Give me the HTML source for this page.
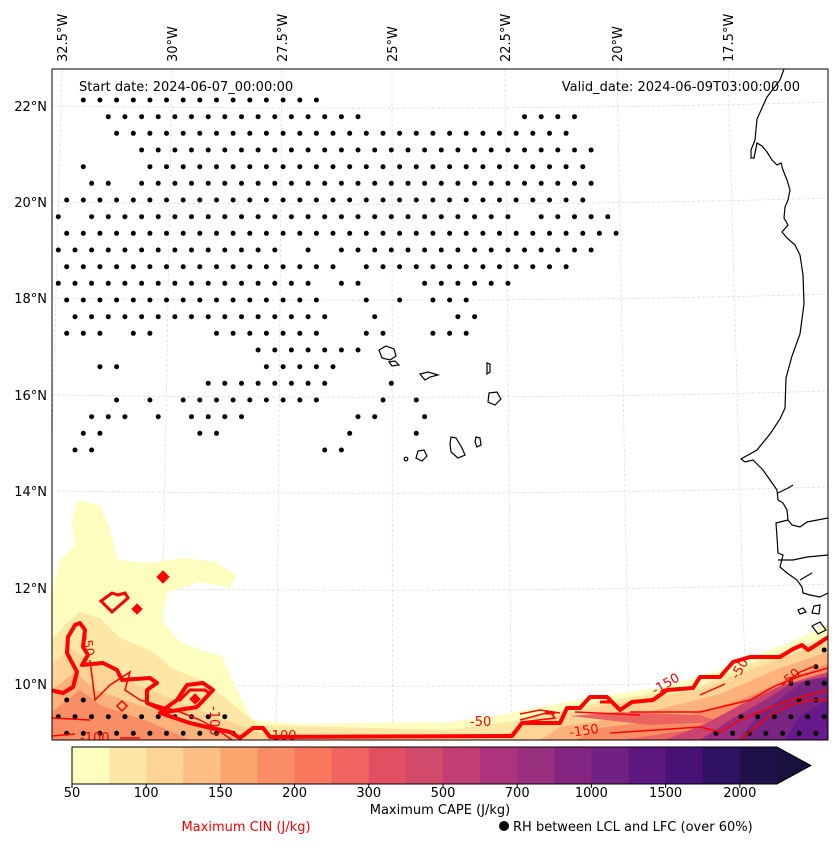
<!DOCTYPE html>
<html><head><meta charset="utf-8"><style>
html,body{margin:0;padding:0;background:#fff}
svg text{font-family:"DejaVu Sans","Liberation Sans",sans-serif}
</style></head><body>
<svg id="fig" width="837" height="845" viewBox="0 0 837 845" xmlns="http://www.w3.org/2000/svg">
<defs><clipPath id="plotclip"><rect x="52" y="69" width="776" height="671"/></clipPath></defs>
<rect x="0" y="0" width="837" height="845" fill="#fff"/>
<g id="mapArea" clip-path="url(#plotclip)">
  <g id="grid"></g>
  <g id="capeFill">
    <path fill="#fcfdbf" d="M52,590 L60,560 L75,545 L72,520 L78,500 L100,505 L110,530 L118,560 L150,563 L185,558 L215,562 L236,575 L230,588 L200,582 L168,592 L162,620 L178,640 L200,650 L222,656 L232,680 L242,700 L252,720 L300,724 L450,722 L500,715 L545,706 L600,696 L660,688 L720,670 L760,654 L800,638 L828,624 L828,740 L52,740 Z"/>
    <path fill="#fde7a6" d="M52,640 L65,625 L80,612 L100,618 L120,638 L150,650 L172,668 L200,680 L228,700 L258,725 L450,730 L520,720 L600,702 L700,686 L760,660 L828,636 L828,740 L52,740 Z"/>
    <path fill="#fed395" d="M52,665 L70,648 L85,658 L105,668 L140,686 L180,702 L220,718 L260,733 L505,735 L525,723 L600,706 L700,690 L765,664 L828,642 L828,740 L52,740 Z"/>
    <path fill="#fcb27a" d="M52,690 L75,672 L95,690 L130,702 L170,715 L210,728 L240,740 L52,740 Z M540,740 L560,727 L640,714 L720,694 L780,668 L828,652 L828,740 Z"/>
    <path fill="#f98d66" d="M52,712 L80,690 L100,705 L150,722 L190,740 L52,740 Z M575,740 L600,728 L680,718 L740,700 L790,678 L828,664 L828,740 Z"/>
    <path fill="#ec6462" d="M620,740 L690,730 L730,712 L770,692 L828,674 L828,740 Z M570,716 L620,712 L700,715 L720,722 L650,725 Z"/>
    <path fill="#c94470" d="M665,740 L705,724 L742,704 L780,686 L828,672 L828,740 Z"/>
    <path fill="#992d80" d="M700,740 L730,720 L765,700 L790,684 L828,676 L828,740 Z"/>
    <path fill="#7a2482" d="M738,740 L758,716 L784,696 L806,680 L828,678 L828,740 Z"/>
    <path fill="#66198a" d="M785,740 L800,716 L828,700 L828,740 Z"/>
  </g>
  <g id="dots"></g>
  <g id="coast" fill="none" stroke="#000" stroke-width="1.2">
    <path d="M784,69 L780,80 L767,97 L757,119 L755,140 L751,150 L751,158 L754,158 L757,143 L762,146 L767,152 L772,160 L777,165 L781,163 L783,170 L787,180 L790,190 L788,200 L785,207 L784,218 L788,225 L782,232 L787,238 L795,245 L800,255 L803,275 L804,304 L800,334 L792,356 L786,378 L785,408 L780,419 L770,434 L757,450 L741,459 L745,462 L753,460 L763,470 L770,480 L777,490 L778,500 L783,503 L787,510 L788,520 L792,525 L800,527 L807,522 L828,518"/>
    <path d="M778,493 L790,487 L793,485"/>
    <path d="M788,520 L776,523 L777,537 L778,553 L783,555 L780,567 L787,573 L797,580 L802,587 L803,593 L810,595 L820,597 L828,593"/>
    <path d="M778,560 L793,560 L807,557 L828,555"/>
    <path d="M800,580 L812,573"/>
    <path d="M798,610 L803,608 L806,612 L800,614 Z M814,606 L820,605 L819,614 L812,613 Z M812,626 L820,622 L826,630 L818,634 Z"/>
    <path d="M379,350 L386,346 L394,349 L396,356 L390,360 L382,358 Z"/>
    <path d="M389,362 L395,361 L399,365 L392,366 Z"/>
    <path d="M420,374 L428,372 L438,375 L430,377 L425,380 Z"/>
    <path d="M487,363 L490,364 L490,372 L487,374 Z"/>
    <path d="M489,393 L497,392 L501,399 L495,405 L488,402 Z"/>
    <path d="M451,437 L456,438 L462,448 L465,455 L458,458 L451,452 L450,444 Z"/>
    <path d="M476,437 L480,438 L481,445 L477,447 L475,442 Z"/>
    <path d="M418,451 L424,450 L427,456 L422,461 L416,458 Z"/>
    <circle cx="406" cy="459" r="1.8"/>
  </g>
  <g id="cin" fill="none" stroke="#ff0000">
    <path stroke-width="4" stroke-linejoin="round" d="M50,690 L63,693 L73,687 L77,672 L67,653 L68,637 L75,625 L80,623 L85,630 L83,647 L88,655 L82,665 L103,663 L117,670 L122,680 L150,678 L157,683 L147,690 L147,703 L163,710 L177,700 L187,685 L203,683 L213,690 L197,707 L160,713 L190,723 L207,727 L230,732 L240,738 L253,728 L263,728 L270,737 L512,736 L522,723 L560,723 L567,708 L580,708 L590,697 L607,697 L620,710 L632,702 L653,700 L667,690 L693,688 L700,677 L720,677 L733,662 L750,657 L780,657 L793,649 L802,645 L808,650 L813,647 L830,636"/>
    <path stroke-width="3" d="M179,701 L190,690 L205,690 L210,694 M600,702 L612,702 M545,713 L555,713"/>
    <path fill="#ff0000" stroke-width="1" d="M163,571 L169,577 L163,583 L157,577 Z"/>
    <path fill="#ff0000" stroke-width="1" d="M137,604 L142,609 L137,614 L132,609 Z"/>
    <path stroke-width="3" d="M101,601 L112,593 L118,595 L125,593 L128,598 L112,612 Z"/>
    <path fill="#ff0000" stroke-width="1" d="M195,694 L200,699 L195,704 L190,699 Z"/>
    <path stroke-width="1.5" d="M122,701 L127,706 L122,711 L117,706 Z"/>
    <path stroke-width="1.5" d="M52,736 L75,734 M120,738 L140,738 M90,660 L95,700 L110,685 L130,672 L125,690 L140,700 L180,712 L200,720 L215,728 L232,740 M52,718 L90,720"/>
    <path stroke-width="1.5" d="M520,720 L550,712 L555,718 L522,722 M575,712 L640,715 M610,733 L700,727 L720,732 L740,720 L790,700 L828,690 M630,712 L700,712 L750,700 L775,686 L800,676 L828,668 M700,695 L725,684 M740,740 L770,715 L790,705 L810,700 L828,700 M782,685 L800,672 L815,666 M520,714 L540,710 L560,713"/>
    <g fill="#ff0000" stroke="none" font-size="13">
      <text x="470" y="726">-50</text>
      <text x="267" y="740">-100</text>
      <text x="80" y="742">-100</text>
      <text x="570" y="737" transform="rotate(-8 570 737)">-150</text>
      <text x="655" y="695" transform="rotate(-30 655 695)">-150</text>
      <text x="738" y="680" transform="rotate(-60 738 680)">-50</text>
      <text x="785" y="688" transform="rotate(-40 785 688)">-50</text>
      <text x="210" y="706" transform="rotate(90 210 706)">-100</text>
      <text x="82" y="636" transform="rotate(80 82 636)">-50</text>
    </g>
  </g>
</g>
<rect x="52" y="69" width="776" height="671" fill="none" stroke="#000" stroke-width="1"/>
<g id="lonLabels" font-size="13" fill="#000"></g>
<g id="latLabels" font-size="13" fill="#000"></g>
<text x="79" y="91" font-size="13">Start date: 2024-06-07_00:00:00</text>
<text x="800" y="91" font-size="13" text-anchor="end">Valid_date: 2024-06-09T03:00:00.00</text>
<g id="colorbar"></g>
<text x="440" y="814" font-size="13" text-anchor="middle">Maximum CAPE (J/kg)</text>
<text x="246" y="831" font-size="13" fill="#ff0000" text-anchor="middle">Maximum CIN (J/kg)</text>
<circle cx="504" cy="826" r="5" fill="#000"/>
<text x="513" y="831" font-size="13">RH between LCL and LFC (over 60%)</text>
</svg>
<script>
const lonTicks = ["32.5°W","30°W","27.5°W","25°W","22.5°W","20°W","17.5°W"];
const lonTopX = [62,172,282,392,505,617,728];
const latTicks = ["22°N","20°N","18°N","16°N","14°N","12°N","10°N"];
const latY = [106,202,298,395,491,588,684];
const cbLevels = [50,75,100,125,150,175,200,250,300,400,500,600,700,850,1000,1250,1500,1750,2000];
const cbColors = ["#fcfdbf","#fde7a6","#fed395","#fdbf84","#fca56f","#f98d66","#f7785c","#ef6460","#e24f63","#d14a6c","#c13e74","#ad347c","#99307f","#832581","#712182","#5d177e","#471176","#2e1162","#1f1049","#1a1040"];
const cbTickLabels = ["50","100","150","200","300","500","700","1000","1500","2000"];
const dotRows = {0:"2-16",1:"3-18,28-31",2:"4-31",3:"5-32",4:"2,6-32",5:"2,3,5-32",6:"1-32",7:"0,2-27,29-33",8:"1-34",9:"0-13,15,17-32",10:"1-17,19-31",11:"0-15,17,18,22-27",12:"1-16,19,21,23-25",13:"1-16,19,24,25",14:"1-3,5,6,10-16,19,20,23-25",15:"12-18",16:"3,4,13-17",17:"9-16,20",18:"4,6,8-16,20,22",19:"2-4,6,8-11,18,19,22",20:"2,3,9,10,18,22",21:"1,2,16,17",33:"46",34:"46",35:"44-46",36:"1,2,45,46",37:"0-10,41-46",38:"1-11,40-46"};

const NS="http://www.w3.org/2000/svg";
function mk(tag,attrs,parent){const e=document.createElementNS(NS,tag);for(const k in attrs)e.setAttribute(k,attrs[k]);parent.appendChild(e);return e;}

const grid=document.getElementById('grid');
lonTopX.forEach((x,i)=>{
  const xb=x+(x-385)*0.055;
  const l=mk('line',{x1:x,y1:69,x2:xb,y2:740,stroke:'#dadada','stroke-width':0.7,'stroke-dasharray':'3,2'},grid);
  
  
});
latY.forEach((y)=>{
  const p=mk('path',{d:`M52,${y} Q500,${y+6} 828,${y-4}`,fill:'none',stroke:'#dadada','stroke-width':0.7,'stroke-dasharray':'3,2'},grid);
  
  
});

const lonG=document.getElementById('lonLabels');
lonTicks.forEach((t,i)=>{
  const x=lonTopX[i]+5, y=62;
  const e=mk('text',{x:x,y:y,transform:`rotate(-90 ${x} ${y})`},lonG);
  e.textContent=t;
  
  
});
const latG=document.getElementById('latLabels');
latTicks.forEach((t,i)=>{
  const e=mk('text',{x:47,y:latY[i]+5,'text-anchor':'end'},latG);
  e.textContent=t;
  
  
});

const dg=document.getElementById('dots');
function parseRanges(s){const out=[];s.split(',').forEach(p=>{const q=p.split('-').map(Number);if(q.length===1)out.push(q[0]);else for(let k=q[0];k<=q[1];k++)out.push(k);});return out;}
Object.keys(dotRows).forEach(rs=>{
  const r=Number(rs);const y=100+16.667*r;
  parseRanges(dotRows[rs]).forEach(k=>{
    const x=50+8.325*(2*k+(r%2));
    const c=mk('circle',{cx:x.toFixed(1),cy:y.toFixed(1),r:2.5,fill:'#000'},dg);
    
    
  });
});

const cb=document.getElementById('colorbar');
const cbX0=72, cbW=37.1, cbY=747, cbH=37;
cbLevels.forEach((lv,i)=>{
  const r=mk('rect',{x:cbX0+i*cbW,y:cbY,width:cbW+0.5,height:cbH,fill:cbColors[i]},cb);
  
  
});
const xEnd=cbX0+cbLevels.length*cbW;
const tri=mk('path',{d:`M${xEnd},${cbY} L${xEnd+34},${cbY+cbH/2} L${xEnd},${cbY+cbH} Z`,fill:cbColors[cbColors.length-1]},cb);


const outline=mk('path',{d:`M${cbX0},${cbY} L${xEnd},${cbY} L${xEnd+34},${cbY+cbH/2} L${xEnd},${cbY+cbH} L${cbX0},${cbY+cbH} Z`,fill:'none',stroke:'#000','stroke-width':1},cb);


cbTickLabels.forEach((t,i)=>{
  const x=cbX0+2*i*cbW;
  const tk=mk('line',{x1:x,y1:cbY+cbH,x2:x,y2:cbY+cbH+4,stroke:'#000'},cb);
  
  
  const e=mk('text',{x:x,y:797,'font-size':13,'text-anchor':'middle'},cb);
  e.textContent=t;
  
  
});
</script>
</body></html>
